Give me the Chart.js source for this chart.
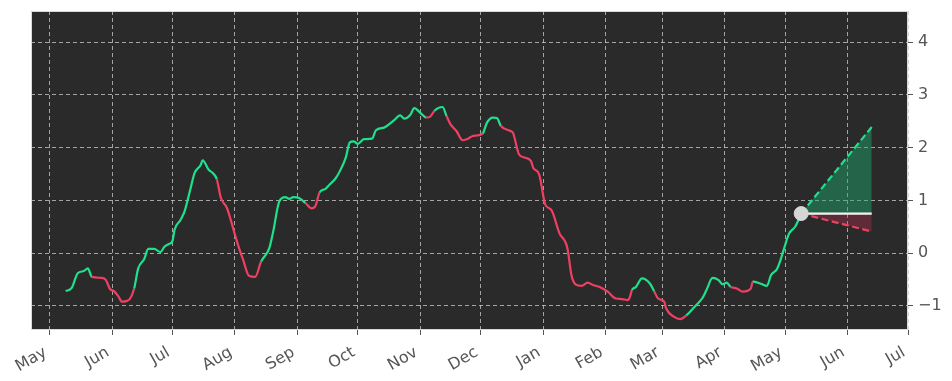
<!DOCTYPE html>
<html><head><meta charset="utf-8">
<script src="https://cdn.jsdelivr.net/npm/chart.js@4.4.0/dist/chart.umd.min.js"></script>
<style>html,body{margin:0;padding:0;background:#fff;}#wrap{width:952px;height:381px;}</style>
</head><body><div id="wrap"><canvas id="c" width="952" height="381"></canvas></div>
<script>
// ---- data ----
const dates = [
'2022-05-09','2022-05-12','2022-05-15','2022-05-18','2022-05-20','2022-05-22','2022-05-27','2022-05-29','2022-05-31',
'2022-06-02','2022-06-04','2022-06-06','2022-06-08','2022-06-10','2022-06-12','2022-06-14','2022-06-17','2022-06-19',
'2022-06-22','2022-06-25','2022-06-27','2022-06-29','2022-07-01','2022-07-02','2022-07-05','2022-07-07','2022-07-10',
'2022-07-12','2022-07-15','2022-07-16','2022-07-19','2022-07-21','2022-07-23','2022-07-25','2022-07-28','2022-07-30',
'2022-08-01','2022-08-03','2022-08-05','2022-08-08','2022-08-11','2022-08-14','2022-08-18','2022-08-20','2022-08-23',
'2022-08-26','2022-08-28','2022-08-30','2022-09-02','2022-09-05','2022-09-08','2022-09-10','2022-09-12','2022-09-15',
'2022-09-17','2022-09-20','2022-09-22','2022-09-25','2022-09-27','2022-09-29','2022-10-01','2022-10-04','2022-10-08',
'2022-10-10','2022-10-14','2022-10-15','2022-10-19','2022-10-22','2022-10-24','2022-10-27','2022-10-29','2022-11-01',
'2022-11-04','2022-11-06','2022-11-08','2022-11-12','2022-11-14','2022-11-16','2022-11-19','2022-11-22','2022-11-24',
'2022-11-27','2022-11-29','2022-12-02','2022-12-04','2022-12-07','2022-12-09','2022-12-11','2022-12-16','2022-12-17',
'2022-12-20','2022-12-23','2022-12-26','2022-12-27','2022-12-30','2023-01-02','2023-01-05','2023-01-09','2023-01-13',
'2023-01-15','2023-01-17','2023-01-20','2023-01-23','2023-01-26','2023-01-29','2023-02-02','2023-02-06','2023-02-09',
'2023-02-12','2023-02-13','2023-02-14','2023-02-16','2023-02-19','2023-02-23','2023-02-25','2023-02-27','2023-03-02',
'2023-03-03','2023-03-07','2023-03-10','2023-03-13','2023-03-17','2023-03-21','2023-03-23','2023-03-26','2023-03-29',
'2023-03-31','2023-04-02','2023-04-04','2023-04-07','2023-04-10','2023-04-14','2023-04-15','2023-04-19','2023-04-22',
'2023-04-24','2023-04-27','2023-04-29','2023-05-01','2023-05-03','2023-05-06','2023-05-08','2023-05-09'];
const values = [
-0.72,-0.66,-0.38,-0.34,-0.29,-0.45,-0.47,-0.51,-0.68,
-0.72,-0.81,-0.92,-0.91,-0.86,-0.67,-0.29,-0.11,0.08,
0.08,0.02,0.12,0.17,0.23,0.44,0.63,0.79,1.23,
1.52,1.67,1.76,1.58,1.52,1.40,1.05,0.86,0.62,
0.35,0.10,-0.12,-0.43,-0.45,-0.16,0.09,0.41,0.98,
1.06,1.03,1.06,1.04,0.95,0.85,0.90,1.15,1.22,
1.30,1.42,1.55,1.81,2.10,2.12,2.07,2.16,2.17,
2.33,2.38,2.40,2.52,2.61,2.55,2.62,2.75,2.66,
2.57,2.59,2.70,2.77,2.60,2.44,2.31,2.14,2.16,
2.22,2.23,2.27,2.47,2.57,2.56,2.41,2.31,2.28,
1.87,1.81,1.74,1.62,1.49,0.92,0.82,0.38,0.09,
-0.42,-0.59,-0.62,-0.56,-0.61,-0.64,-0.73,-0.86,-0.87,
-0.89,-0.83,-0.70,-0.64,-0.48,-0.58,-0.72,-0.86,-0.92,
-1.05,-1.21,-1.25,-1.18,-1.02,-0.85,-0.70,-0.47,-0.51,
-0.59,-0.56,-0.64,-0.67,-0.73,-0.67,-0.54,-0.58,-0.62,
-0.42,-0.30,-0.10,0.15,0.37,0.50,0.66,0.75];
// trend state of each segment (1 = rising / green, -1 = falling / red)
const trend = [
1,1,1,1,1,-1,-1,-1,-1,
-1,-1,-1,-1,-1,1,1,1,1,
1,1,1,1,1,1,1,1,1,
1,1,1,1,1,-1,-1,-1,-1,
-1,-1,-1,-1,-1,1,1,1,1,
1,1,1,1,-1,-1,-1,1,1,
1,1,1,1,1,1,1,1,1,
1,1,1,1,1,1,1,1,1,
-1,-1,1,1,-1,-1,-1,-1,-1,
-1,-1,1,1,1,1,-1,-1,-1,
-1,-1,-1,-1,-1,-1,-1,-1,-1,
-1,-1,-1,-1,-1,-1,-1,-1,-1,
-1,-1,1,1,1,1,-1,-1,-1,
-1,-1,-1,1,1,1,1,1,1,
1,1,-1,-1,-1,-1,1,1,1,
1,1,1,1,1,1,1,1];
const forecastDates = ['2023-05-09','2023-06-13'];
const forecastBase = [0.75, 0.75];
const forecastUpper = [0.75, 2.39];
const forecastLower = [0.75, 0.41];
const monthTickDates = ['2022-05-01','2022-06-01','2022-07-01','2022-08-01','2022-09-01','2022-10-01','2022-11-01',
'2022-12-01','2023-01-01','2023-02-01','2023-03-01','2023-04-01','2023-05-01','2023-06-01','2023-07-01'];
const monthTickLabels = ['May','Jun','Jul','Aug','Sep','Oct','Nov','Dec','Jan','Feb','Mar','Apr','May','Jun','Jul'];
const yTicks = [-1,0,1,2,3,4];

// ---- helpers ----
const ORIGIN = Date.UTC(2022,4,1);
const dayOf = s => (Date.parse(s + 'T00:00:00Z') - ORIGIN) / 86400000;
const GREEN = '#1fe08c', RED = '#ee4063';
const FONT = 'DejaVu Sans';

const mainData = dates.map((d,i)=>({x:dayOf(d), y:values[i]}));
const fx = forecastDates.map(dayOf);
const mk = arr => arr.map((v,i)=>({x:fx[i], y:v}));

const bgPlugin = {
  id:'bg',
  beforeDraw(chart){
    const {ctx, chartArea:a} = chart;
    ctx.save();
    ctx.fillStyle = '#ffffff'; ctx.fillRect(0,0,chart.width,chart.height);
    ctx.fillStyle = '#2a2a2a'; ctx.fillRect(a.left,a.top,a.right-a.left,a.bottom-a.top);
    ctx.restore();
  },
  afterDraw(chart){
    const {ctx, chartArea:a} = chart;
    ctx.save();
    ctx.strokeStyle = '#d9d9d9'; ctx.lineWidth = 1;
    ctx.strokeRect(a.left+0.5, a.top+0.5, a.right-a.left-1, a.bottom-a.top-1);
    ctx.restore();
  }
};

new Chart(document.getElementById('c'), {
  type:'line',
  data:{ datasets:[
    { data: mk([forecastBase[0]]), showLine:false, pointRadius:7, pointHoverRadius:7,
      pointBackgroundColor:'#d6d6d6', pointBorderColor:'#d6d6d6', order:0 },
    { data: mainData, borderWidth:2.2, pointRadius:0, borderColor:GREEN, cubicInterpolationMode:'monotone',
      segment:{ borderColor: c => trend[c.p0DataIndex] > 0 ? GREEN : RED }, order:1 },
    { data: mk(forecastBase), borderColor:'#f2f2f2', borderWidth:2.2, pointRadius:0, order:2 },
    { data: mk(forecastUpper), borderColor:GREEN, borderWidth:2.2, borderDash:[7,3.5], pointRadius:0, order:3,
      fill:{ target:2, above:'rgba(28,170,110,0.45)', below:'rgba(28,170,110,0.45)' } },
    { data: mk(forecastLower), borderColor:RED, borderWidth:2.2, borderDash:[7,3.5], pointRadius:0, order:3,
      fill:{ target:2, above:'rgba(205,50,90,0.32)', below:'rgba(205,50,90,0.32)' } }
  ]},
  options:{
    responsive:false, animation:false, devicePixelRatio:1,
    layout:{ padding:{ left:31, top:11, right:0, bottom:0 } },
    plugins:{ legend:{display:false}, tooltip:{enabled:false} },
    scales:{
      x:{ type:'linear', min:-9.2, max:dayOf('2023-07-01'),
        afterBuildTicks: s => { s.ticks = monthTickDates.map(d=>({value:dayOf(d)})); },
        ticks:{ autoSkip:false, maxRotation:30, minRotation:30, color:'#555555', labelOffset:-4,
          font:{family:FONT, size:16}, padding:8, callback:(v,i)=>monthTickLabels[i] },
        grid:{ color:'rgba(205,205,205,0.75)', lineWidth:1, tickLength:5, tickColor:'#555555' },
        border:{ display:false, dash:[4,3] },
        afterFit: s => { s.height = 51; s.paddingLeft = 0; s.paddingRight = 0; }
      },
      y:{ position:'right', min:-1.457, max:4.59,
        afterBuildTicks: s => { s.ticks = yTicks.map(v=>({value:v})); },
        ticks:{ color:'#555555', font:{family:FONT, size:16}, padding:5,
          callback: v => v < 0 ? '\u2212' + Math.abs(v) : String(v) },
        grid:{ color:'rgba(205,205,205,0.75)', lineWidth:1, tickLength:5, tickColor:'#555555' },
        border:{ display:false, dash:[4,3] },
        afterFit: s => { s.width = 44; s.paddingTop = 0; s.paddingBottom = 0; }
      }
    }
  },
  plugins:[bgPlugin]
});
</script></body></html>
